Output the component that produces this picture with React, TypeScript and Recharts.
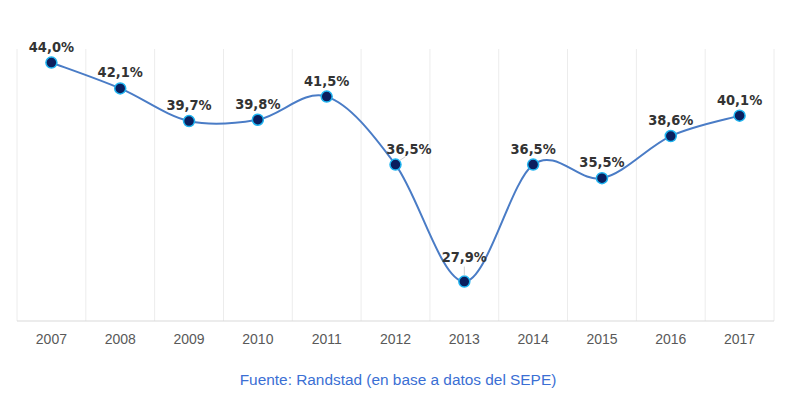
import React from "react";
import { LineChart, Line, XAxis, YAxis, CartesianGrid, LabelList } from "recharts";

const years = ["2007", "2008", "2009", "2010", "2011", "2012", "2013", "2014", "2015", "2016", "2017"];
const rates = [44.0, 42.1, 39.7, 39.8, 41.5, 36.5, 27.9, 36.5, 35.5, 38.6, 40.1];
const sourceNote = "Fuente: Randstad (en base a datos del SEPE)";

const data = years.map((year, i) => ({ year, rate: rates[i] }));

// Smooth curve through every point (uniform Catmull-Rom as cubic Béziers)
function smoothCurve(context: any) {
  let pts: [number, number][] = [];
  return {
    areaStart() {},
    areaEnd() {},
    lineStart() {
      pts = [];
    },
    point(x: number, y: number) {
      pts.push([+x, +y]);
    },
    lineEnd() {
      if (!pts.length) return;
      context.moveTo(pts[0][0], pts[0][1]);
      for (let i = 0; i < pts.length - 1; i++) {
        const p0 = pts[i - 1] || pts[i];
        const p1 = pts[i];
        const p2 = pts[i + 1];
        const p3 = pts[i + 2] || p2;
        const c1x = p1[0] + (p2[0] - p0[0]) / 6;
        const c1y = p1[1] + (p2[1] - p0[1]) / 6;
        const c2x = p2[0] - (p3[0] - p1[0]) / 6;
        const c2y = p2[1] - (p3[1] - p1[1]) / 6;
        context.bezierCurveTo(c1x, c1y, c2x, c2y, p2[0], p2[1]);
      }
    },
  };
}

const fmt = (v: number) => v.toFixed(1).replace(".", ",") + "%";

const ValueLabel = (props: any) => {
  const { x, y, value, index } = props;
  let dx = 0;
  let dy = -11;
  let leader: number[] | null = null;
  if (index === 5) {
    dx = 13.5;
    dy = -11;
    leader = [4, -4, 10, -8];
  }
  if (index === 6) {
    dy = -20;
    leader = [0, -6, 0, -15];
  }
  return (
    <g>
      {leader && (
        <line
          x1={x + leader[0]}
          y1={y + leader[1]}
          x2={x + leader[2]}
          y2={y + leader[3]}
          stroke="#d0d0d0"
          strokeWidth={1}
        />
      )}
      <text
        x={x + dx}
        y={y + dy}
        textAnchor="middle"
        fontFamily="'DejaVu Sans Condensed', 'Liberation Sans', Arial, sans-serif"
        fontSize={14.5}
        fontWeight="bold"
        fill="#333333"
      >
        {fmt(value)}
      </text>
    </g>
  );
};

const Dot = (props: any) => {
  const { cx, cy } = props;
  return <circle cx={cx} cy={cy} r={5.5} fill="#0b1f5e" stroke="#1fb4f0" strokeWidth={1.5} />;
};

export default function App() {
  return (
    <div style={{ position: "absolute", left: 0, top: 0, width: 790, height: 420, background: "#fff" }}>
      <LineChart width={790} height={420} data={data} margin={{ top: 49, right: 16, bottom: 69, left: 17 }}>
        <CartesianGrid
          horizontal={false}
          stroke="#ececec"
          verticalCoordinatesGenerator={({ offset }: any) =>
            Array.from({ length: years.length + 1 }, (_, i) => offset.left + (i * offset.width) / years.length)
          }
        />
        <XAxis
          dataKey="year"
          padding={{ left: 34.4, right: 34.4 }}
          axisLine={{ stroke: "#d9d9d9" }}
          tickLine={false}
          tick={{ fill: "#595959", fontSize: 14, fontFamily: "'Liberation Sans', Arial, sans-serif" }}
          tickMargin={7}
        />
        <YAxis hide domain={[25, 45]} />
        <Line
          dataKey="rate"
          type={smoothCurve as any}
          stroke="#4a7cc6"
          strokeWidth={2}
          dot={<Dot />}
          activeDot={false}
          isAnimationActive={false}
        >
          <LabelList dataKey="rate" content={<ValueLabel />} />
        </Line>
      </LineChart>
      <div
        style={{
          position: "absolute",
          left: 0,
          width: 796,
          top: 371,
          textAlign: "center",
          fontFamily: "'Liberation Sans', Arial, sans-serif",
          fontSize: 15.4,
          color: "#3b6fd4",
        }}
      >
        {sourceNote}
      </div>
    </div>
  );
}
